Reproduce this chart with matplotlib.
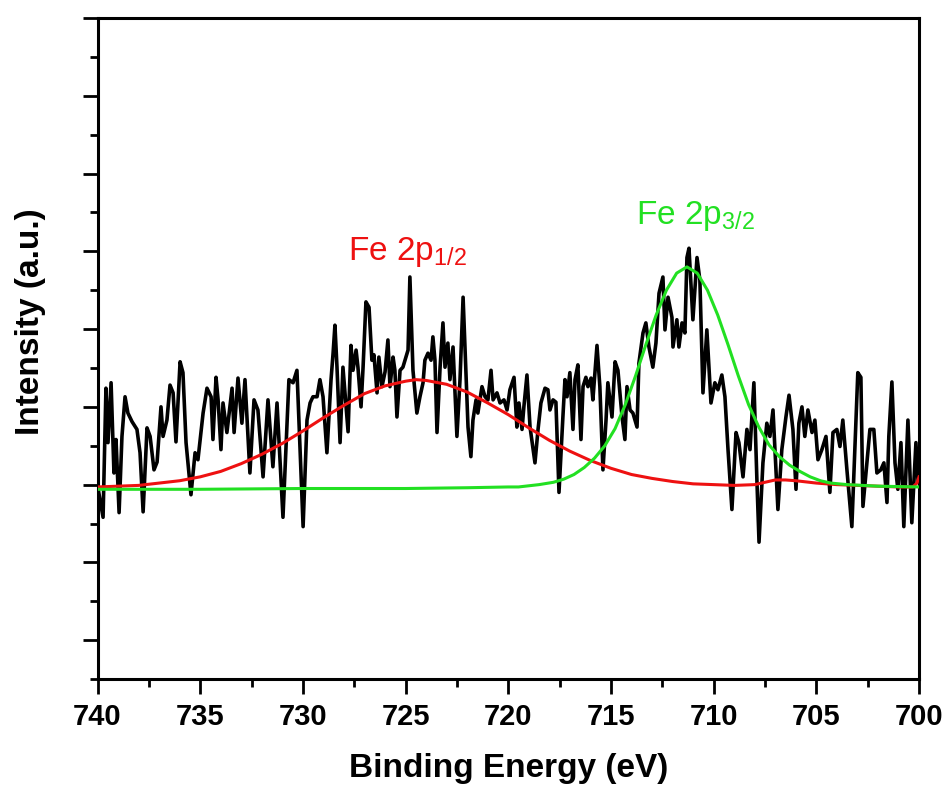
import matplotlib.pyplot as plt
from matplotlib.ticker import MultipleLocator, NullFormatter

plt.rcParams["mathtext.fontset"] = "custom"
plt.rcParams["mathtext.rm"] = "Liberation Sans"
plt.rcParams["mathtext.it"] = "Liberation Sans:italic"

# measured spectrum (binding energy in eV, intensity in a.u.)
energy = [739.98, 739.73, 739.59, 739.49, 739.34, 739.20, 739.10, 738.95, 738.81, 738.66,
          738.52, 738.32, 738.08, 737.93, 737.78, 737.59, 737.44, 737.25, 737.10, 736.91,
          736.81, 736.62, 736.47, 736.32, 736.18, 735.98, 735.84, 735.69, 735.45, 735.25,
          735.11, 734.86, 734.67, 734.47, 734.38, 734.23, 734.13, 733.99, 733.89, 733.70,
          733.45, 733.35, 733.16, 732.97, 732.82, 732.58, 732.38, 732.19, 731.94, 731.70,
          731.46, 731.26, 730.97, 730.68, 730.48, 730.29, 729.99, 729.80, 729.65, 729.51,
          729.31, 729.17, 729.02, 728.83, 728.63, 728.53, 728.44, 728.34, 728.19, 728.05,
          727.95, 727.80, 727.66, 727.56, 727.41, 727.32, 727.17, 727.07, 726.93, 726.78,
          726.64, 726.54, 726.39, 726.30, 726.15, 726.00, 725.86, 725.76, 725.61, 725.52,
          725.42, 725.27, 725.13, 724.98, 724.88, 724.79, 724.64, 724.45, 724.30, 724.15,
          724.06, 723.91, 723.76, 723.67, 723.57, 723.47, 723.32, 723.18, 723.08, 722.94,
          722.84, 722.69, 722.50, 722.35, 722.20, 722.06, 721.96, 721.82, 721.72, 721.57,
          721.48, 721.28, 721.13, 720.99, 720.84, 720.74, 720.55, 720.40, 720.21, 720.06,
          719.92, 719.72, 719.58, 719.48, 719.33, 719.24, 719.09, 718.94, 718.70, 718.55,
          718.41, 718.21, 718.07, 717.97, 717.82, 717.68, 717.53, 717.34, 717.24, 717.14,
          717.00, 716.85, 716.75, 716.61, 716.46, 716.36, 716.22, 716.12, 715.97, 715.88,
          715.68, 715.54, 715.39, 715.24, 715.15, 714.95, 714.80, 714.66, 714.46, 714.32,
          714.22, 714.07, 713.93, 713.73, 713.64, 713.44, 713.30, 713.15, 712.96, 712.81,
          712.66, 712.47, 712.37, 712.22, 712.03, 711.98, 711.79, 711.69, 711.54, 711.40,
          711.30, 711.20, 711.01, 710.81, 710.67, 710.52, 710.33, 710.13, 709.94, 709.79,
          709.60, 709.45, 709.30, 709.11, 708.91, 708.77, 708.57, 708.38, 708.23, 708.04,
          707.89, 707.79, 707.60, 707.41, 707.26, 707.11, 706.87, 706.68, 706.48, 706.33,
          706.14, 705.99, 705.85, 705.70, 705.56, 705.41, 705.21, 705.07, 704.92, 704.73,
          704.53, 704.34, 704.19, 704.00, 703.85, 703.71, 703.51, 703.27, 703.12, 702.98,
          702.83, 702.73, 702.54, 702.39, 702.20, 702.05, 701.86, 701.71, 701.56, 701.47,
          701.32, 701.17, 701.03, 700.88, 700.74, 700.54, 700.35, 700.15, 700.05]
intensity = [-4, -42, 124, 54, 131, 15, 58, -36, 62, 113,
             92, 81, 71, 41, -35, 73, 62, 19, 29, 100,
             62, 83, 128, 118, 55, 158, 144, 54, -13, 41,
             32, 92, 124, 113, 58, 138, 109, 45, 105, 67,
             124, 67, 137, 79, 135, 15, 109, 96, 10, 109,
             23, 105, -42, 135, 131, 147, -54, 83, 105, 113,
             113, 135, 113, 41, 135, 169, 205, 151, 54, 151,
             118, 68, 179, 147, 173, 151, 100, 151, 235, 228,
             160, 167, 118, 164, 126, 145, 186, 126, 164, 147,
             87, 147, 151, 164, 173, 267, 147, 92, 113, 131,
             160, 169, 160, 190, 160, 67, 151, 208, 151, 182,
             135, 177, 62, 135, 241, 144, 74, 36, 83, 109,
             92, 126, 113, 109, 147, 109, 118, 105, 109, 96,
             122, 138, 74, 105, 71, 100, 141, 74, 28, 71,
             105, 124, 122, 96, 109, 106, -10, 87, 135, 113,
             144, 71, 135, 154, 58, 126, 138, 126, 137, 109,
             179, 126, 19, 83, 131, 87, 158, 147, 87, 58,
             126, 96, 92, 74, 156, 195, 208, 177, 151, 182,
             246, 267, 199, 241, 215, 177, 212, 177, 208, 195,
             292, 304, 212, 292, 263, 118, 199, 105, 131, 122,
             141, 113, 45, -32, 67, 54, 10, 71, 45, 131,
             3, -74, 28, 79, 62, 96, -32, 45, 87, 115,
             71, -6, 79, 100, 62, 96, 67, 83, 32, 45,
             62, -10, 67, 71, 49, 83, 19, -54, 49, 144,
             138, -28, 28, 71, 71, 15, 19, 28, -23, 62,
             132, 28, -6, 54, -54, 83, -49, 54, 6]

# Fe 2p1/2 fitted component
red_energy = [740, 739, 738, 737, 736, 735, 734, 733, 732, 731, 730, 729, 728, 727,
              726, 725, 724.5, 724, 723, 722, 721, 720, 719, 718, 717, 716, 715, 714,
              713, 712, 711, 710, 709, 708, 707.5, 707, 706.5, 706, 705, 704, 703,
              702, 701, 700.3, 700.1, 700]
red_fit = [-3, -2, -1, 2, 5, 10, 17, 27, 39, 53, 69, 86, 102, 117,
           127, 133, 135, 134, 129, 119, 105, 90, 73, 57, 43, 31, 21, 13,
           8, 4, 1, 0, -1, 0, 3, 6, 6, 5, 2, 0, -1,
           -2, -3, -3, 2, 10]

# Fe 2p3/2 fitted component
green_energy = [740, 735, 730, 725, 722, 720, 719.5, 718.5, 717.8, 717.3, 716.8, 716.3,
                715.8, 715.3, 714.8, 714.3, 713.8, 713.3, 712.8, 712.3, 711.8, 711.3,
                710.8, 710.3, 709.8, 709.3, 708.8, 708.3, 707.8, 707.3, 706.8, 706.3,
                705.8, 705.3, 704.8, 704.3, 703.5, 702, 700]
green_fit = [-6, -6, -5, -5, -4, -3, -3, 0, 3, 7, 13, 22,
             34, 50, 72, 103, 140, 180, 218, 250, 272, 280,
             272, 250, 218, 180, 140, 103, 74, 51, 36, 25,
             17, 10, 5, 2, 0, -2, -3]

fig = plt.figure(figsize=(9.45, 7.85), dpi=100)
ax = fig.add_axes([0.1032, 0.135, 0.8693, 0.842])

ax.plot(energy, intensity, color="black", linewidth=2.6, zorder=2)
ax.plot(red_energy, red_fit, color="#ee1111", linewidth=2.2, zorder=3)
ax.plot(green_energy, green_fit, color="#22e022", linewidth=2.2, zorder=3)

ax.text(724.9, 299, "Fe 2p$_{\\mathrm{1/2}}$", color="#ee1111", fontsize=24,
        ha="center", va="center", family="Liberation Sans")
ax.text(710.9, 346, "Fe 2p$_{\\mathrm{3/2}}$", color="#22e022", fontsize=24,
        ha="center", va="center", family="Liberation Sans")

ax.set_xlim(740, 700)
ax.set_ylim(-250, 600)

ax.xaxis.set_major_locator(MultipleLocator(5))
ax.xaxis.set_minor_locator(MultipleLocator(2.5))
ax.yaxis.set_major_locator(MultipleLocator(100))
ax.yaxis.set_minor_locator(MultipleLocator(50))
ax.yaxis.set_major_formatter(NullFormatter())

ax.tick_params(which="both", direction="out", width=2, top=False, right=False)
ax.tick_params(which="major", length=11)
ax.tick_params(which="minor", length=6)
ax.tick_params(axis="x", pad=6)
for lab in ax.get_xticklabels():
    lab.set_fontfamily("Liberation Sans")
    lab.set_fontweight("bold")
    lab.set_fontsize(21)

for sp in ax.spines.values():
    sp.set_linewidth(2.2)

ax.set_xlabel("Binding Energy (eV)", fontsize=24, fontweight="bold",
              family="Liberation Sans", labelpad=16)
ax.set_ylabel("Intensity (a.u.)", fontsize=24, fontweight="bold",
              family="Liberation Sans")
ax.yaxis.set_label_coords(-0.063, 0.54)

plt.savefig("out.png", dpi=100)
plt.close()
